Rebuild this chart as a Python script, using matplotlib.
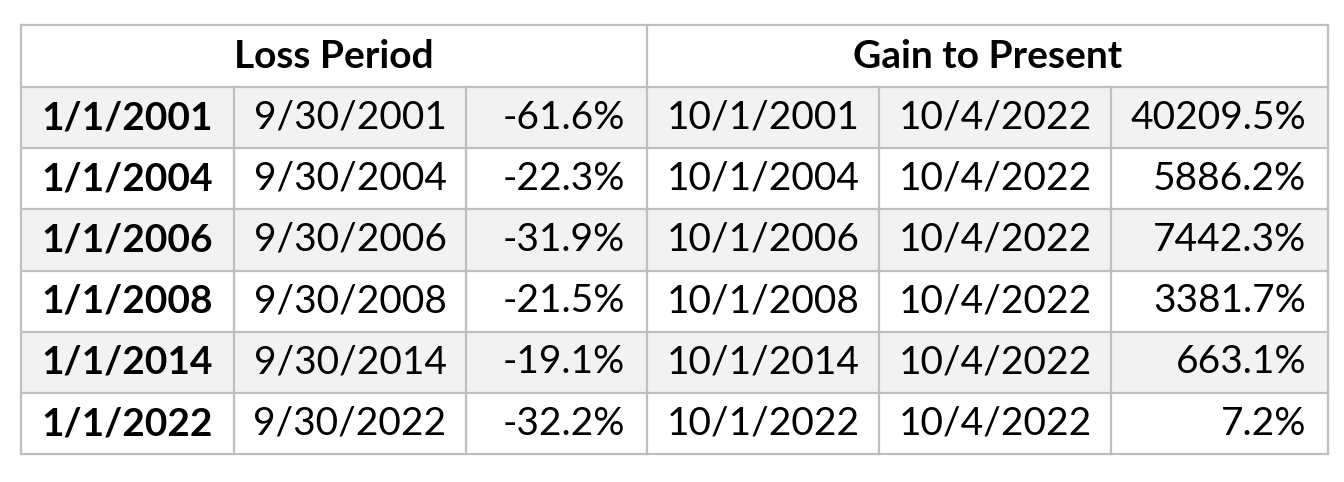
import matplotlib.pyplot as plt
from matplotlib.patches import Rectangle

# Table contents
group_headers = ['Loss Period', 'Gain to Present']
loss_start = ['1/1/2001', '1/1/2004', '1/1/2006', '1/1/2008', '1/1/2014', '1/1/2022']
loss_end = ['9/30/2001', '9/30/2004', '9/30/2006', '9/30/2008', '9/30/2014', '9/30/2022']
loss_pct = ['-61.6%', '-22.3%', '-31.9%', '-21.5%', '-19.1%', '-32.2%']
gain_start = ['10/1/2001', '10/1/2004', '10/1/2006', '10/1/2008', '10/1/2014', '10/1/2022']
gain_end = ['10/4/2022'] * 6
gain_pct = ['40209.5%', '5886.2%', '7442.3%', '3381.7%', '663.1%', '7.2%']

columns = [loss_start, loss_end, loss_pct, gain_start, gain_end, gain_pct]
aligns = ['center', 'center', 'right', 'center', 'center', 'right']

# Layout in pixel units
col_edges = [21, 234, 466, 647, 879, 1111, 1328]
top = 25
header_h = 62
row_h = 61.2
font = 'Lato'
fsize = 28
line_color = '#bfbfbf'
stripe = '#f2f2f2'

fig = plt.figure(figsize=(13.44, 4.82), dpi=100)
ax = fig.add_axes([0, 0, 1, 1])
ax.set_xlim(0, 1344)
ax.set_ylim(482, 0)
ax.axis('off')

n_rows = len(loss_start)
table_bottom = top + header_h + n_rows * row_h

# striped rows
for i in range(n_rows):
    y0 = top + header_h + i * row_h
    if i % 2 == 0:
        ax.add_patch(Rectangle((col_edges[0], y0), col_edges[-1] - col_edges[0], row_h,
                               facecolor=stripe, edgecolor='none', zorder=1))

# horizontal lines
ys = [top, top + header_h] + [top + header_h + (i + 1) * row_h for i in range(n_rows)]
for y in ys:
    ax.plot([col_edges[0], col_edges[-1]], [y, y], color=line_color, lw=1.6, zorder=2)

# vertical lines (inner ones only below header, except the middle one)
for j, x in enumerate(col_edges):
    if j in (0, 3, 6):
        ax.plot([x, x], [top, table_bottom], color=line_color, lw=1.6, zorder=2)
    else:
        ax.plot([x, x], [top + header_h, table_bottom], color=line_color, lw=1.6, zorder=2)

# group headers
ax.text((col_edges[0] + col_edges[3]) / 2, top + header_h / 2, group_headers[0],
        ha='center', va='center', fontsize=fsize, fontweight='bold', family=font, zorder=3)
ax.text((col_edges[3] + col_edges[6]) / 2, top + header_h / 2, group_headers[1],
        ha='center', va='center', fontsize=fsize, fontweight='bold', family=font, zorder=3)

pad = 22
for j, col in enumerate(columns):
    for i, val in enumerate(col):
        yc = top + header_h + (i + 0.5) * row_h
        if aligns[j] == 'right':
            xc = col_edges[j + 1] - pad
        else:
            xc = (col_edges[j] + col_edges[j + 1]) / 2
        ax.text(xc, yc, val, ha=aligns[j], va='center', fontsize=fsize,
                fontweight='bold' if j == 0 else 'normal', family=font, zorder=3)

fig.savefig('out.png', dpi=100, facecolor='white')
